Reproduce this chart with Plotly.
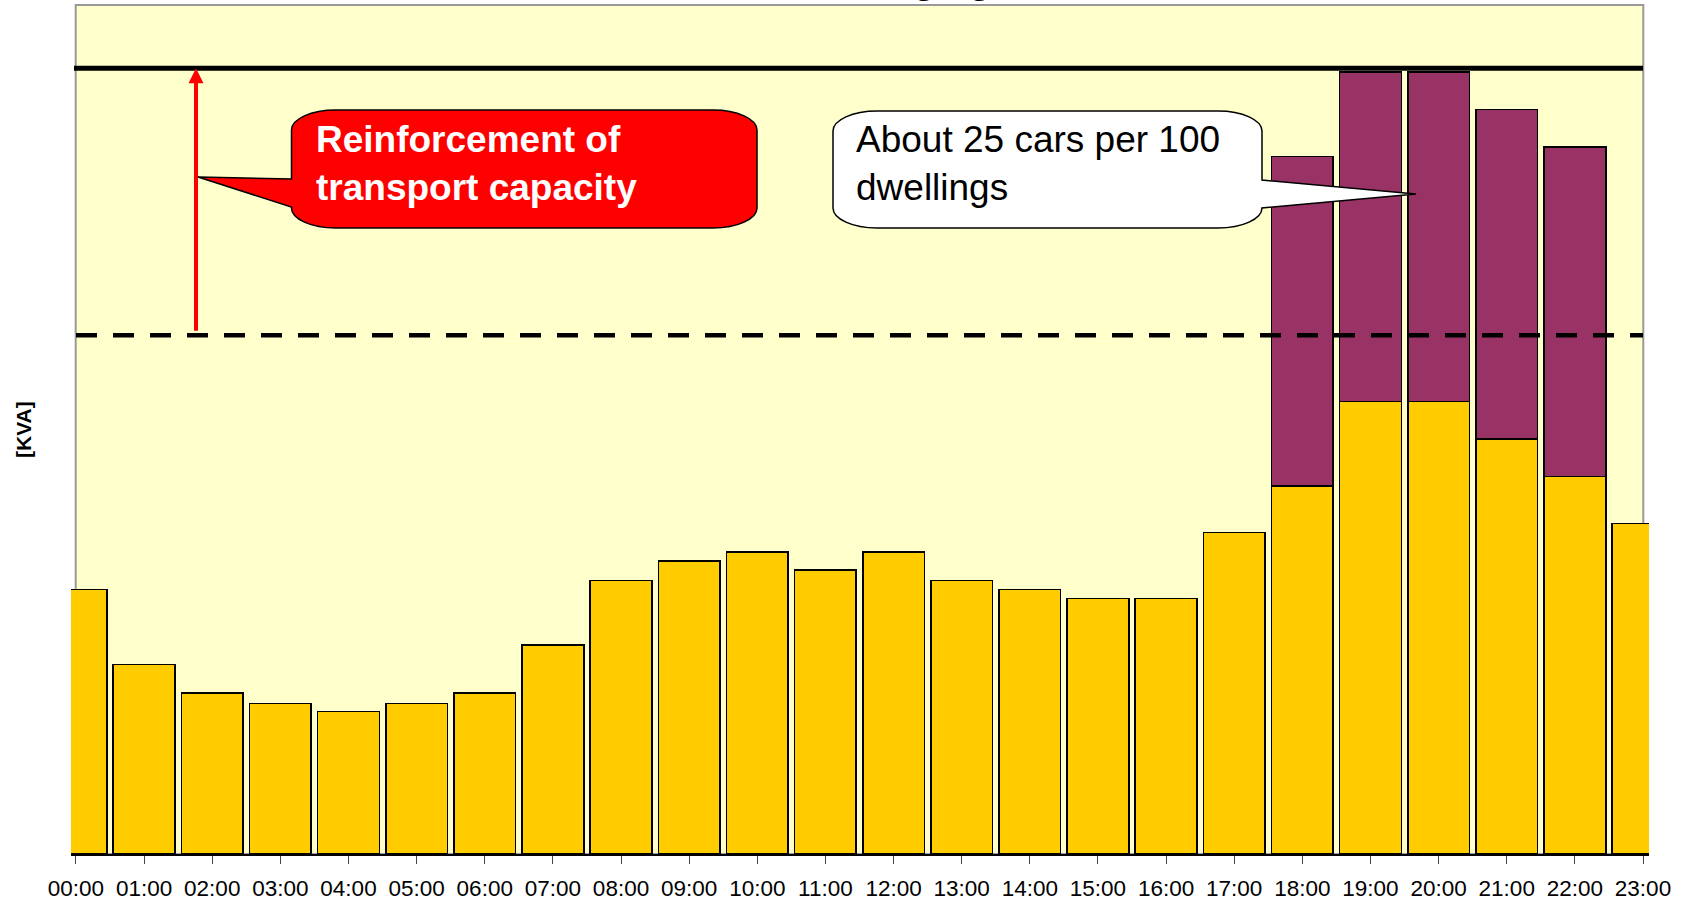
import plotly.graph_objects as go

# ---------------- data ----------------
HOURS = ["00:00", "01:00", "02:00", "03:00", "04:00", "05:00", "06:00", "07:00",
         "08:00", "09:00", "10:00", "11:00", "12:00", "13:00", "14:00", "15:00",
         "16:00", "17:00", "18:00", "19:00", "20:00", "21:00", "22:00", "23:00"]
BASE_LOAD = [204, 146, 124, 116, 110, 116, 124, 161, 211, 226, 233, 219,
             233, 211, 204, 197, 197, 248, 284, 349, 349, 320, 291, 255]
EV_LOAD = [0, 0, 0, 0, 0, 0, 0, 0, 0, 0, 0, 0,
           0, 0, 0, 0, 0, 0, 254, 254, 254, 254, 254, 0]
CAPACITY_NOW = 400      # dashed line
CAPACITY_NEW = 606      # solid line
Y_MAX = 654.7

TITLE = "EV Charging"
Y_TITLE = "[KVA]"
RED_TEXT = "Reinforcement of<br>transport capacity"
WHITE_TEXT = "About 25 cars per 100<br>dwellings"

# ---------------- layout helpers ----------------
W, H = 1691, 902
L, R, T, B = 71, 42, 5, 48
PW, PH = W - L - R, H - T - B
FONT = "Arial, 'Liberation Sans', sans-serif"


def px(x):
    return (x - L) / PW


def py(y):
    return (H - B - y) / PH


def callout_path(x0, y0, x1, y1, rx, ry, side, base_top, base_bot, tip):
    k = 0.55
    pts = []
    pts.append(("M", [(x0 + rx, y0)]))
    pts.append(("L", [(x1 - rx, y0)]))
    pts.append(("C", [(x1 - rx + k * rx, y0), (x1, y0 + ry - k * ry), (x1, y0 + ry)]))
    if side == "right":
        pts.append(("L", [(x1, base_top)]))
        pts.append(("L", [tip]))
        pts.append(("L", [(x1, base_bot)]))
    pts.append(("L", [(x1, y1 - ry)]))
    pts.append(("C", [(x1, y1 - ry + k * ry), (x1 - rx + k * rx, y1), (x1 - rx, y1)]))
    pts.append(("L", [(x0 + rx, y1)]))
    pts.append(("C", [(x0 + rx - k * rx, y1), (x0, y1 - ry + k * ry), (x0, y1 - ry)]))
    if side == "left":
        pts.append(("L", [(x0, base_bot)]))
        pts.append(("L", [tip]))
        pts.append(("L", [(x0, base_top)]))
    pts.append(("L", [(x0, y0 + ry)]))
    pts.append(("C", [(x0, y0 + ry - k * ry), (x0 + rx - k * rx, y0), (x0 + rx, y0)]))
    s = ""
    for cmd, cs in pts:
        s += cmd + " " + " ".join(f"{px(a):.5f},{py(b):.5f}" for a, b in cs) + " "
    return s + "Z"


fig = go.Figure()
fig.add_trace(go.Bar(x=HOURS, y=BASE_LOAD, name="Base load",
                     marker=dict(color="#FFCC00", line=dict(color="#000000", width=1.6))))
fig.add_trace(go.Bar(x=HOURS, y=EV_LOAD, name="EV charging",
                     marker=dict(color="#993366", line=dict(color="#000000", width=1.6))))

shapes = [
    # plot frame with background
    dict(type="rect", xref="paper", yref="paper", x0=px(75.7), x1=px(1643.3), y0=py(854), y1=py(5),
         fillcolor="#FFFFCC", line=dict(color="#999999", width=2), layer="below"),
    # capacity lines
    dict(type="line", xref="paper", yref="y", x0=px(74), x1=px(1643), y0=CAPACITY_NEW, y1=CAPACITY_NEW,
         line=dict(color="#000000", width=5)),
    dict(type="line", xref="paper", yref="y", x0=px(76), x1=px(1643), y0=CAPACITY_NOW, y1=CAPACITY_NOW,
         line=dict(color="#000000", width=4.5, dash="21px,16px")),
    # red callout
    dict(type="path", xref="paper", yref="paper",
         path=callout_path(291.5, 110, 757, 228, 44, 20, "left", 179, 207, (198, 177)),
         fillcolor="#FF0000", line=dict(color="#000000", width=1.5)),
    # white callout
    dict(type="path", xref="paper", yref="paper",
         path=callout_path(833, 111, 1262, 228, 44, 20, "right", 180, 208, (1416, 194)),
         fillcolor="#FFFFFF", line=dict(color="#000000", width=1.5)),
]

annotations = [
    # red arrow from present capacity to reinforced capacity
    dict(xref="paper", yref="y", x=px(196), y=CAPACITY_NEW, ax=0, ay=334 - 70,
         text="", showarrow=True, arrowhead=2, arrowsize=0.75, arrowwidth=4, arrowcolor="#FF0000",
         standoff=0),
    dict(xref="paper", yref="paper", x=px(314), y=py(163.5), xanchor="left", yanchor="middle",
         align="left", text="<b>" + RED_TEXT + "</b>", showarrow=False,
         font=dict(family=FONT, size=37, color="#FFFFFF")),
    dict(xref="paper", yref="paper", x=px(854), y=py(163.5), xanchor="left", yanchor="middle",
         align="left", text=WHITE_TEXT, showarrow=False,
         font=dict(family=FONT, size=37, color="#000000")),
    dict(xref="paper", yref="paper", x=px(23), y=py(430), xanchor="center", yanchor="middle",
         text="<b>" + Y_TITLE + "</b>", textangle=-90, showarrow=False,
         font=dict(family=FONT, size=21, color="#000000")),
    dict(xref="paper", yref="paper", x=px(880), y=py(3), xanchor="center", yanchor="bottom",
         text="<b>" + TITLE + "</b>", showarrow=False,
         font=dict(family=FONT, size=37, color="#000000")),
]

fig.update_layout(
    width=W, height=H,
    margin=dict(l=L, r=R, t=T, b=B, pad=0, autoexpand=False),
    paper_bgcolor="#FFFFFF", plot_bgcolor="rgba(0,0,0,0)",
    barmode="stack", bargap=0.095, showlegend=False,
    shapes=shapes, annotations=annotations,
    font=dict(family=FONT, color="#000000"),
)
fig.update_xaxes(type="category", range=[-0.073, 23.088], showline=True, linecolor="#000000",
                 linewidth=2, ticks="outside", ticklen=8, tickwidth=1, tickcolor="#444444",
                 ticklabelstandoff=5, automargin=False,
                 tickfont=dict(family=FONT, size=22.5, color="#000000"), showgrid=False,
                 zeroline=False, fixedrange=True)
fig.update_yaxes(range=[0, Y_MAX], showticklabels=False, showgrid=False, zeroline=False,
                 showline=False, ticks="", fixedrange=True, automargin=False)

fig.write_html("out.html", config={"displayModeBar": False},
               post_script="document.body.style.margin='0';")
